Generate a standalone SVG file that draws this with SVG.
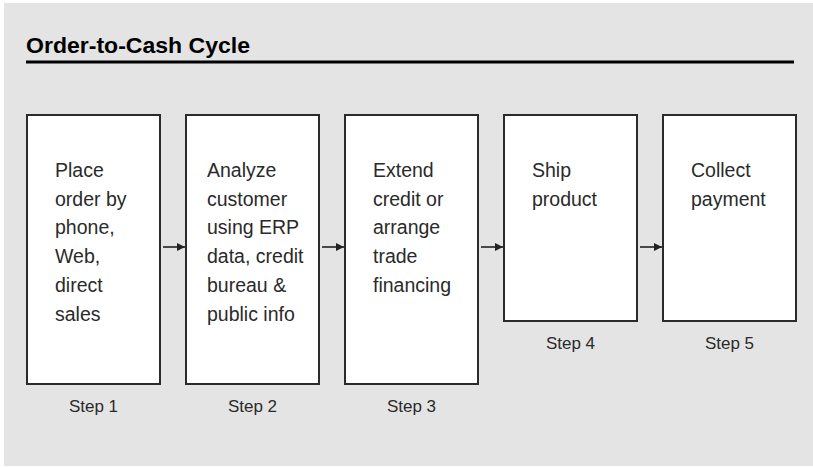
<svg xmlns="http://www.w3.org/2000/svg" width="813" height="468" viewBox="0 0 813 468">
  <style>
    .panel { fill: #e4e4e4; }
    .title { font-family: "Liberation Sans", Arial, sans-serif; font-weight: bold; font-size: 22px; fill: #000; }
    .box { fill: #fff; stroke: #2b2b2b; stroke-width: 2; }
    .label { font-family: "Liberation Sans", Arial, sans-serif; font-size: 19.5px; fill: #2a2a2a; }
    .step { font-family: "Liberation Sans", Arial, sans-serif; font-size: 17px; fill: #2a2a2a; text-anchor: middle; }
    .conn { stroke: #222; stroke-width: 1.6; fill: none; }
  </style>
  <defs>
    <marker id="arrowhead" viewBox="0 0 10 10" refX="10" refY="5" markerWidth="8" markerHeight="8" markerUnits="userSpaceOnUse" orient="auto">
      <path d="M0,0 L10,5 L0,10 Z" fill="#222"/>
    </marker>
  </defs>

  <rect class="panel" x="4" y="3" width="809" height="463"/>

  <text class="title" x="26" y="53" textLength="224" lengthAdjust="spacingAndGlyphs">Order-to-Cash Cycle</text>
  <rect x="26" y="60.5" width="768" height="3" fill="#000"/>

  <g id="step1">
    <rect class="box" x="27" y="115" width="133" height="269"/>
    <text class="label" x="55" y="177">
      <tspan x="55">Place</tspan>
      <tspan x="55" dy="28.7">order by</tspan>
      <tspan x="55" dy="28.7">phone,</tspan>
      <tspan x="55" dy="28.7">Web,</tspan>
      <tspan x="55" dy="28.7">direct</tspan>
      <tspan x="55" dy="28.7">sales</tspan>
    </text>
    <text class="step" x="93.5" y="412">Step 1</text>
  </g>

  <g id="step2">
    <rect class="box" x="186" y="115" width="133" height="269"/>
    <text class="label" x="207" y="177">
      <tspan x="207">Analyze</tspan>
      <tspan x="207" dy="28.7">customer</tspan>
      <tspan x="207" dy="28.7">using ERP</tspan>
      <tspan x="207" dy="28.7">data, credit</tspan>
      <tspan x="207" dy="28.7">bureau &amp;</tspan>
      <tspan x="207" dy="28.7">public info</tspan>
    </text>
    <text class="step" x="252.5" y="412">Step 2</text>
  </g>

  <g id="step3">
    <rect class="box" x="345" y="115" width="133" height="269"/>
    <text class="label" x="373" y="177">
      <tspan x="373">Extend</tspan>
      <tspan x="373" dy="28.7">credit or</tspan>
      <tspan x="373" dy="28.7">arrange</tspan>
      <tspan x="373" dy="28.7">trade</tspan>
      <tspan x="373" dy="28.7">financing</tspan>
    </text>
    <text class="step" x="411.5" y="412">Step 3</text>
  </g>

  <g id="step4">
    <rect class="box" x="504" y="115" width="133" height="206"/>
    <text class="label" x="532" y="177">
      <tspan x="532">Ship</tspan>
      <tspan x="532" dy="28.7">product</tspan>
    </text>
    <text class="step" x="570.5" y="349">Step 4</text>
  </g>

  <g id="step5">
    <rect class="box" x="663" y="115" width="133" height="206"/>
    <text class="label" x="691" y="177">
      <tspan x="691">Collect</tspan>
      <tspan x="691" dy="28.7">payment</tspan>
    </text>
    <text class="step" x="729.5" y="349">Step 5</text>
  </g>

  <g id="connectors">
    <line class="conn" x1="163" y1="247" x2="185" y2="247" marker-end="url(#arrowhead)"/>
    <line class="conn" x1="322" y1="247" x2="344" y2="247" marker-end="url(#arrowhead)"/>
    <line class="conn" x1="481" y1="247" x2="503" y2="247" marker-end="url(#arrowhead)"/>
    <line class="conn" x1="640" y1="247" x2="662" y2="247" marker-end="url(#arrowhead)"/>
  </g>
</svg>
